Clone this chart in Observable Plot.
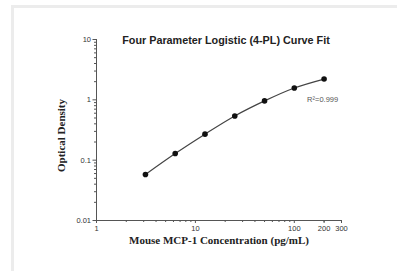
<!DOCTYPE html>
<html>
<head>
<meta charset="utf-8">
<script src="https://cdn.jsdelivr.net/npm/d3@7"></script>
<script src="https://cdn.jsdelivr.net/npm/@observablehq/plot@0.6"></script>
<style>
  html, body { margin: 0; padding: 0; background: #fff; }
  #wrap { position: relative; width: 397px; height: 271px; overflow: hidden; }
  #frame { position: absolute; left: 11px; top: 5px; right: -10px; bottom: -10px;
           border-left: 3px solid #ececec; border-top: 3px solid #ececec; }
  #chart { position: absolute; left: 0; top: 0; }
</style>
</head>
<body>
<div id="wrap"><div id="frame"></div><div id="chart"></div></div>
<script>
const concentration = [3.125, 6.25, 12.5, 25, 50, 100, 200];
const opticalDensity = [0.058, 0.129, 0.27, 0.54, 0.96, 1.57, 2.21];
const xTickLabels = [1, 10, 100, 200, 300];
const xMinorTicks = [2, 3, 4, 5, 6, 7, 8, 9, 20, 30, 40, 50, 60, 70, 80, 90, 200, 300];
const yTickLabels = [0.01, 0.1, 1, 10];
const yMinorTicks = [0.02,0.03,0.04,0.05,0.06,0.07,0.08,0.09,0.2,0.3,0.4,0.5,0.6,0.7,0.8,0.9,2,3,4,5,6,7,8,9];
const title = "Four Parameter Logistic (4-PL) Curve Fit";
const xLabel = "Mouse MCP-1 Concentration (pg/mL)";
const yLabel = "Optical Density";
const r2Label = "R\u00B2=0.999";

const data = concentration.map((c, i) => ({c, od: opticalDensity[i]}));
const axisColor = "#555";
const sans = "Liberation Sans, Arial, sans-serif";
const serif = "Liberation Serif, Times New Roman, serif";

const chart = Plot.plot({
  width: 397,
  height: 271,
  marginLeft: 96,
  marginRight: 56,
  marginTop: 39,
  marginBottom: 51,
  style: {background: "transparent", overflow: "visible"},
  x: {type: "log", domain: [1, 300], label: null},
  y: {type: "log", domain: [0.01, 10], label: null},
  marks: [
    Plot.ruleX([1], {stroke: axisColor, strokeWidth: 1}),
    Plot.ruleY([0.01], {stroke: axisColor, strokeWidth: 1}),
    Plot.axisX({ticks: xMinorTicks, tickSize: 2, text: null, stroke: axisColor, label: null}),
    Plot.axisX({ticks: xTickLabels, tickSize: 3, tickPadding: 2, stroke: axisColor,
      tickFormat: d => String(d), fontSize: 7.5, fontFamily: sans, fill: "#333", label: null}),
    Plot.axisY({ticks: yMinorTicks, tickSize: 2, text: null, stroke: axisColor, label: null}),
    Plot.axisY({ticks: yTickLabels, tickSize: 3.5, tickPadding: 2, stroke: axisColor,
      tickFormat: d => String(d), fontSize: 7.5, fontFamily: sans, fill: "#333", label: null}),
    Plot.line(data, {x: "c", y: "od", curve: "catmull-rom", stroke: "#444", strokeWidth: 1.2}),
    Plot.dot(data, {x: "c", y: "od", r: 2.8, fill: "#111", stroke: "none"}),
    Plot.text(data.slice(-1), {x: "c", y: "od", text: () => r2Label, dx: -17, dy: 21,
      textAnchor: "start", fontSize: 7.5, fontFamily: sans, fill: "#555"}),
    Plot.text([title], {frameAnchor: "top", dx: 7, dy: 1, lineAnchor: "middle",
      fontSize: 10.8, fontWeight: "bold", fontFamily: sans, fill: "#222"}),
    Plot.text([xLabel], {frameAnchor: "bottom", dy: 20, lineAnchor: "middle",
      fontSize: 11, fontWeight: "bold", fontFamily: serif, fill: "#222"}),
    Plot.text([yLabel], {frameAnchor: "left", dx: -35, dy: 42, rotate: -90, lineAnchor: "middle",
      fontSize: 11, fontWeight: "bold", fontFamily: serif, fill: "#222"})
  ]
});
document.getElementById("chart").appendChild(chart);
</script>
</body>
</html>
